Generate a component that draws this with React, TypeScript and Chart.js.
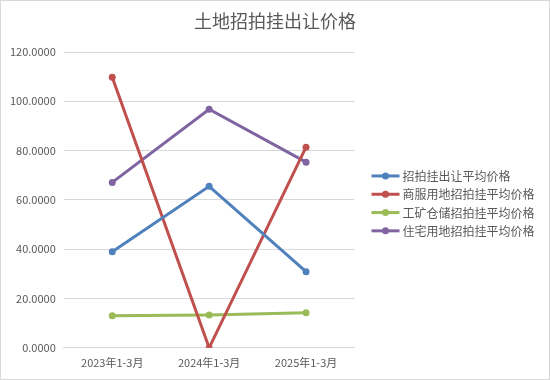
import React, { useEffect, useRef } from "react";
import { Chart, registerables } from "chart.js";

Chart.register(...registerables);

const title = "土地招拍挂出让价格";
const categories = ["2023年1-3月", "2024年1-3月", "2025年1-3月"];
const seriesNames = ["招拍挂出让平均价格", "商服用地招拍挂平均价格", "工矿仓储招拍挂平均价格", "住宅用地招拍挂平均价格"];
const avgPrice = [39.0, 65.5, 30.9];
const commercialPrice = [109.8, 0.0, 81.4];
const industrialPrice = [13.0, 13.3, 14.2];
const residentialPrice = [67.1, 96.8, 75.3];
const colors = ["#4F81BD", "#C0504D", "#9BBB59", "#8064A2"];
const yTicks = [0, 20, 40, 60, 80, 100, 120];

const FONT = "'Noto Sans CJK SC', 'Noto Sans', sans-serif";

const decorations = {
  id: "decorations",
  afterDraw(chart: any) {
    const ctx = chart.ctx;
    const area = chart.chartArea;
    ctx.save();
    // title centered on whole canvas
    ctx.font = `18px ${FONT}`;
    ctx.fillStyle = "#595959";
    ctx.textAlign = "center";
    ctx.textBaseline = "middle";
    ctx.fillText(title, chart.width / 2, 20);
    // legend on the right
    const n = chart.data.datasets.length;
    const rowH = 18.3;
    const cy = (area.top + area.bottom) / 2 + 3.5;
    const startY = cy - ((n - 1) * rowH) / 2;
    const x0 = area.right + 17;
    ctx.font = `12px ${FONT}`;
    ctx.textAlign = "left";
    chart.data.datasets.forEach((ds: any, i: number) => {
      const y = startY + i * rowH;
      ctx.strokeStyle = ds.borderColor;
      ctx.lineWidth = 3;
      ctx.beginPath();
      ctx.moveTo(x0, y);
      ctx.lineTo(x0 + 28, y);
      ctx.stroke();
      ctx.fillStyle = ds.borderColor;
      ctx.beginPath();
      ctx.arc(x0 + 14, y, 3.5, 0, Math.PI * 2);
      ctx.fill();
      ctx.fillStyle = "#595959";
      ctx.fillText(ds.label, x0 + 31, y + 0.5);
    });
    ctx.restore();
  },
};

export default function App() {
  const ref = useRef<HTMLCanvasElement | null>(null);
  useEffect(() => {
    if (!ref.current) return;
    const values = [avgPrice, commercialPrice, industrialPrice, residentialPrice];
    const chart = new Chart(ref.current, {
      type: "line",
      data: {
        labels: categories,
        datasets: seriesNames.map((name, i) => ({
          label: name,
          data: values[i],
          borderColor: colors[i],
          backgroundColor: colors[i],
          borderWidth: 3,
          pointRadius: 3.5,
          pointHoverRadius: 3.5,
          pointBorderWidth: 0,
          tension: 0,
        })),
      },
      plugins: [decorations],
      options: {
        animation: false,
        responsive: true,
        maintainAspectRatio: false,
        layout: { padding: { left: 1, right: 194.5, top: 51, bottom: 2 } },
        plugins: {
          title: { display: false },
          legend: { display: false },
          tooltip: { enabled: false },
        },
        scales: {
          x: {
            offset: true,
            grid: { display: false, drawTicks: false },
            border: { display: true, color: "#D9D9D9", width: 1 },
            ticks: { color: "#595959", font: { family: FONT, size: 11 }, padding: 8 },
          },
          y: {
            min: 0,
            max: 120,
            afterBuildTicks: (s: any) => {
              s.ticks = yTicks.map((v) => ({ value: v }));
            },
            grid: { color: "#D9D9D9", drawTicks: false },
            border: { display: false },
            ticks: {
              color: "#595959",
              font: { family: FONT, size: 11 },
              padding: 8,
              callback: (v: any) => Number(v).toFixed(4),
            },
          },
        },
      },
    });
    return () => chart.destroy();
  }, []);
  return (
    <div
      style={{
        position: "absolute",
        left: 0,
        top: 0,
        width: 548,
        height: 378,
        border: "1px solid #D9D9D9",
        background: "#fff",
      }}
    >
      <canvas ref={ref} />
    </div>
  );
}
